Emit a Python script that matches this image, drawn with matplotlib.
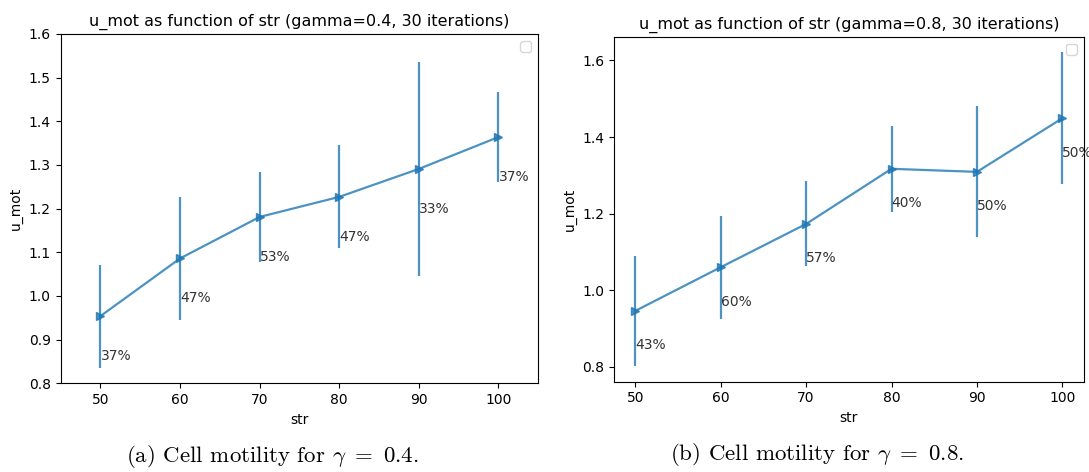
import matplotlib
matplotlib.use("Agg")
import matplotlib.pyplot as plt

plt.rcParams["mathtext.fontset"] = "cm"

strengths = [50, 60, 70, 80, 90, 100]

# gamma = 0.4
mot_04 = [0.954, 1.086, 1.181, 1.227, 1.291, 1.364]
err_04 = [0.118, 0.141, 0.103, 0.118, 0.245, 0.102]
pct_04 = ["37%", "47%", "53%", "47%", "33%", "37%"]

# gamma = 0.8
mot_08 = [0.946, 1.060, 1.173, 1.317, 1.309, 1.449]
err_08 = [0.144, 0.134, 0.111, 0.112, 0.171, 0.172]
pct_08 = ["43%", "60%", "57%", "40%", "50%", "50%"]

fig = plt.figure(figsize=(10.89, 4.72), dpi=100)
ax1 = fig.add_axes([0.0557, 0.1879, 0.4386, 0.7401])
ax2 = fig.add_axes([0.5638, 0.1913, 0.4313, 0.7309])

panels = [
    (ax1, mot_04, err_04, pct_04, "0.4"),
    (ax2, mot_08, err_08, pct_08, "0.8"),
]
for ax, mot, err, pct, gamma in panels:
    ax.errorbar(strengths, mot, yerr=err, marker=">", color="C0", alpha=0.8,
                markersize=6, linewidth=1.6)
    for x, y, p in zip(strengths, mot, pct):
        ax.text(x, y - 0.1, p, fontsize=10, color="#333333")
    ax.set_title(f"u_mot as function of str (gamma={gamma}, 30 iterations)",
                 fontsize=11.5)
    ax.set_xlabel("str", fontsize=10)
    ax.set_ylabel("u_mot", fontsize=10)
    ax.tick_params(labelsize=10)
    ax.set_xticks(strengths)
    ax.legend()

ax1.set_xlim(45, 105)
ax1.set_ylim(0.8, 1.6)

fig.text(0.25, 0.022, r"(a) Cell motility for $\gamma\ =\ 0.4$.",
         ha="center", va="baseline", fontsize=16.5, family="cmr10")
fig.text(0.75, 0.026, r"(b) Cell motility for $\gamma\ =\ 0.8$.",
         ha="center", va="baseline", fontsize=16.5, family="cmr10")

fig.savefig("out.png", dpi=100)
